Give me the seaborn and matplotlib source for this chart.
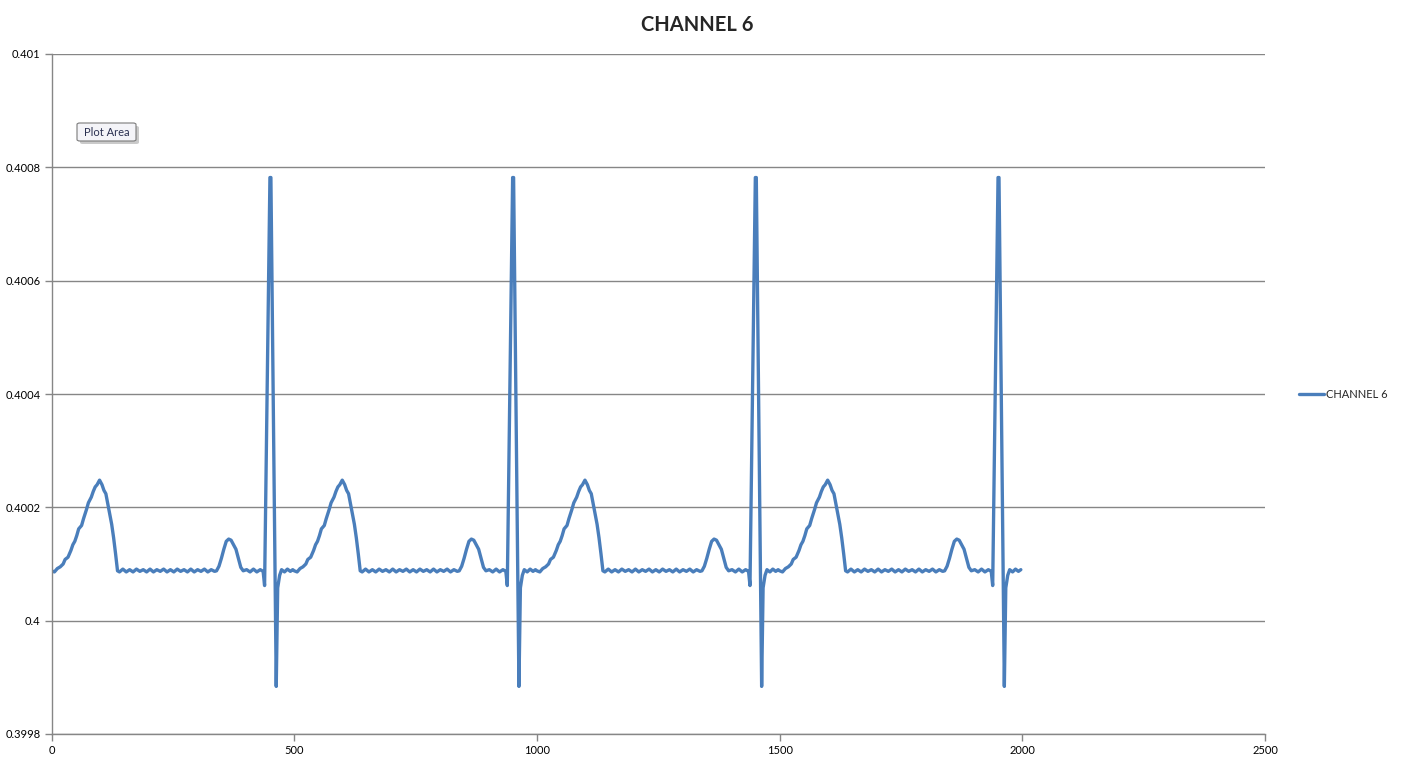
import numpy as np
import pandas as pd
import matplotlib
matplotlib.use("Agg")
import matplotlib.pyplot as plt
from matplotlib.patches import FancyBboxPatch
import seaborn as sns

# one heartbeat (sample index, value); it repeats every 500 samples
beat_x = [0, 6, 12, 18, 24, 28, 34, 40, 44, 48, 52, 56, 62, 66, 72, 76, 82, 86, 90, 94,
          99, 104, 108, 112, 116, 120, 124, 128, 132, 136,
          140, 147, 154, 161, 168, 175, 182, 189, 196, 203, 210, 217, 224, 231, 238,
          245, 252, 259, 266, 273, 280, 287, 294, 301, 308, 315, 322, 329, 336,
          340, 345, 350, 355, 360, 365, 370, 375, 380, 385, 390, 395,
          402, 409, 416, 423, 430, 436, 439, 450, 452, 463, 466, 470, 474, 480, 486, 492, 497]
beat_y = [0.400088, 0.400086, 0.400092, 0.400095, 0.400100, 0.400108, 0.400112, 0.400124,
          0.400134, 0.400140, 0.400150, 0.400162, 0.400168, 0.400180, 0.400196, 0.400208,
          0.400218, 0.400228, 0.400236, 0.400240, 0.400248, 0.400240, 0.400230, 0.400224,
          0.400206, 0.400188, 0.400170, 0.400146, 0.400118, 0.400088,
          0.400086, 0.400091, 0.400086, 0.400090, 0.400086, 0.400091, 0.400087, 0.400090,
          0.400086, 0.400091, 0.400086, 0.400090, 0.400087, 0.400091, 0.400086, 0.400090,
          0.400086, 0.400091, 0.400087, 0.400090, 0.400086, 0.400091, 0.400086, 0.400090,
          0.400087, 0.400091, 0.400086, 0.400090, 0.400087,
          0.400088, 0.400096, 0.400110, 0.400126, 0.400140, 0.400144, 0.400142, 0.400134,
          0.400126, 0.400110, 0.400094, 0.400088,
          0.400090, 0.400086, 0.400091, 0.400086, 0.400090, 0.400087, 0.400062, 0.400782,
          0.400782, 0.399884, 0.400058, 0.400080, 0.400090, 0.400086, 0.400091, 0.400087,
          0.400090]
beat_starts = [0, 500, 1000, 1500]

y_ticks = [0.3998, 0.4, 0.4002, 0.4004, 0.4006, 0.4008, 0.401]
x_ticks = [0, 500, 1000, 1500, 2000, 2500]

line_color = "#4A7EBB"
grid_color = "#868686"

df = pd.DataFrame({
    "sample": np.concatenate([np.array(beat_x) + s for s in beat_starts]),
    "value": np.tile(beat_y, len(beat_starts)),
})

sns.set_style("white")
plt.rcParams["font.family"] = ["Lato", "DejaVu Sans"]

W, H = 1402, 761
fig = plt.figure(figsize=(W / 100, H / 100), dpi=100)
ax = fig.add_axes([51.5 / W, 27 / H, (1265 - 51.5) / W, (734 - 54) / H])

sns.lineplot(data=df, x="sample", y="value", ax=ax, color=line_color,
             linewidth=2.4, label="CHANNEL 6", sort=False)

ax.set_xlim(0, 2500)
ax.set_ylim(0.3998, 0.401)
ax.set_xticks(x_ticks)
ax.set_yticks(y_ticks)
ax.set_xticklabels([f"{v:g}" for v in x_ticks])
ax.set_yticklabels([f"{v:g}" for v in y_ticks])
ax.set_xlabel("")
ax.set_ylabel("")

ax.yaxis.grid(True, color=grid_color, linewidth=1)
ax.xaxis.grid(False)
for side in ("top", "right"):
    ax.spines[side].set_visible(False)
for side in ("left", "bottom"):
    ax.spines[side].set_color(grid_color)
    ax.spines[side].set_linewidth(1)
ax.tick_params(axis="both", which="both", direction="out", length=5, width=1,
               color=grid_color, labelsize=8, labelcolor="black", pad=3,
               left=True, bottom=True)

fig.text(697 / W, 1 - 25 / H, "CHANNEL 6", fontsize=14.5, fontweight="bold",
         ha="center", va="center")

ax.legend(loc="center left", bbox_to_anchor=(1.02, 0.5), frameon=False,
          fontsize=8, handlelength=2.2, handletextpad=0.2)

# "Plot Area" hover tip, with its drop shadow
shadow = FancyBboxPatch((80 / W, 1 - 144 / H), 59 / W, 18 / H, transform=fig.transFigure,
                        boxstyle="round,pad=0,rounding_size=0.002", fc="#b4b4b4",
                        ec="none", alpha=0.7)
tip = FancyBboxPatch((77 / W, 1 - 141 / H), 59 / W, 18 / H, transform=fig.transFigure,
                     boxstyle="round,pad=0,rounding_size=0.002", fc="#f4f4f8",
                     ec="#7a7a7a", lw=0.8)
fig.add_artist(shadow)
fig.add_artist(tip)
fig.text(106.5 / W, 1 - 132 / H, "Plot Area", fontsize=8, va="center", ha="center",
         color="#2a3050")

fig.savefig("out.png", dpi=100, facecolor="white")
